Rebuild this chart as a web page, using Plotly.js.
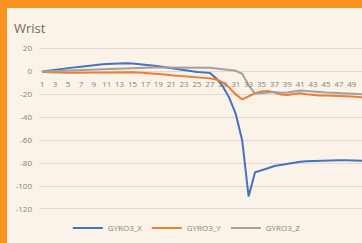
<!DOCTYPE html>
<html>
<head>
<meta charset="utf-8">
<script src="https://cdn.plot.ly/plotly-3.0.1.min.js"></script>
<style>
  html, body { margin: 0; padding: 0; width: 362px; height: 243px; overflow: hidden; background: #f7931e; }
  #chart { position: absolute; left: 7px; top: 8px; width: 355px; height: 235px; }
</style>
</head>
<body>
<div id="chart"></div>
<script>
const categories = Array.from({length: 51}, (_, i) => i + 1);
const tickLabels = categories.filter(c => c % 2 === 1).map(String);
const gyroX = [0, 0.8, 1.7, 2.4, 3, 3.6, 4.2, 5, 5.6, 6.2,
  6.6, 6.9, 7.1, 7.1, 6.9, 6.5, 6, 5.3, 4.6, 3.9,
  3.2, 2.5, 1.5, 0.5, -0.5, -0.8, -1.2, -6, -13, -23,
  -37, -60, -109, -88, -86.5, -84.5, -82.5, -81.5, -80.5, -79.5,
  -78.8, -78.3, -78, -77.8, -77.6, -77.5, -77.4, -77.5, -77.6, -77.8, -78];
const gyroY = [-0.5, -0.8, -1, -1.2, -1.2, -1.2, -1.1, -1, -1, -0.9,
  -0.8, -0.7, -0.6, -0.6, -0.7, -0.9, -1.2, -1.6, -2, -2.6,
  -3.2, -3.6, -4, -4.5, -5, -5.5, -6, -7, -9.5, -14,
  -20, -24.3, -21.5, -19, -17.5, -17, -18.3, -20, -20.5, -19.7,
  -19, -19.8, -20.7, -21, -21, -21, -21.2, -21.5, -21.8, -22.2, -22.6];
const gyroZ = [0, 0.2, 0.4, 0.6, 0.8, 1, 1.3, 1.6, 1.9, 2.2,
  2.5, 2.7, 2.9, 3.1, 3.2, 3.3, 3.4, 3.4, 3.4, 3.4,
  3.4, 3.4, 3.4, 3.4, 3.4, 3.3, 3.2, 2.6, 1.8, 1.2,
  0.6, -2, -12, -19.4, -19, -18.3, -18, -18.5, -18.3, -17.4,
  -16.6, -17, -17.6, -18, -18.3, -18.6, -18.8, -19.1, -19.4, -19.7, -20];
const seriesNames = ['GYRO3_X', 'GYRO3_Y', 'GYRO3_Z'];
const yTicks = [20, 0, -20, -40, -60, -80, -100, -120];

const colors = ['#4472c4', '#ed7d31', '#a5a09b'];
const data = [gyroX, gyroY, gyroZ].map((vals, i) => ({
  x: categories, y: vals, name: seriesNames[i], type: 'scatter', mode: 'lines',
  line: {color: colors[i], width: 2}
}));

const yMin = -124, yMax = 24;
const fontFam = '"Open Sans", "Liberation Sans", sans-serif';
const layout = {
  width: 355, height: 235,
  margin: {l: 31.5, r: 0, t: 35.7, b: 29.1},
  paper_bgcolor: '#fbf3e9', plot_bgcolor: '#fbf3e9',
  title: {text: 'Wrist', font: {family: fontFam, size: 13, color: '#75695f'},
    x: 7 / 355, xref: 'container', xanchor: 'left', y: 1 - 20 / 235, yref: 'container', yanchor: 'middle'},
  showlegend: true,
  legend: {orientation: 'h', x: 0.505, xref: 'container', xanchor: 'center', y: 0.064, yref: 'container', yanchor: 'middle',
    entrywidth: 34, entrywidthmode: 'pixels',
    font: {family: fontFam, size: 8, color: '#8a8078'}, bgcolor: 'rgba(0,0,0,0)'},
  xaxis: {
    range: [0.5, 50.58], tickmode: 'array', tickvals: tickLabels.map(Number), ticktext: tickLabels,
    showgrid: false, zeroline: false, showline: false, ticks: '',
    anchor: 'free', position: (0 - yMin) / (yMax - yMin), ticklabelstandoff: 7,
    tickfont: {family: fontFam, size: 8, color: '#8a8078'}, fixedrange: true
  },
  yaxis: {
    range: [yMin, yMax], tickmode: 'array', tickvals: yTicks, ticktext: yTicks.map(String),
    showgrid: true, gridcolor: '#e2dad1', gridwidth: 1, zeroline: true, zerolinecolor: '#e2dad1', zerolinewidth: 1,
    showline: false, ticks: '', ticklabelstandoff: 6,
    tickfont: {family: fontFam, size: 8, color: '#8a8078'}, fixedrange: true
  }
};
Plotly.newPlot('chart', data, layout, {staticPlot: true, displayModeBar: false});
</script>
</body>
</html>
